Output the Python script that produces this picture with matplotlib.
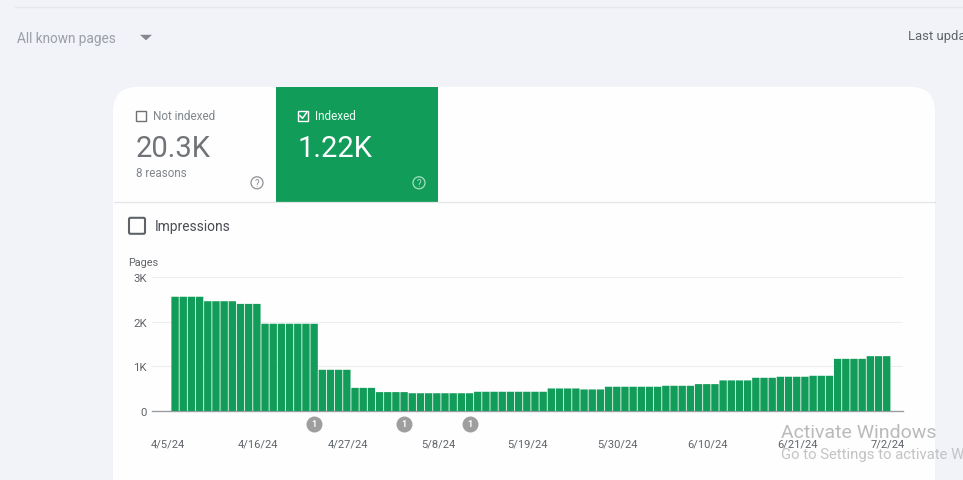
import numpy as np
import matplotlib
matplotlib.use('Agg')
import matplotlib.pyplot as plt
from matplotlib.patches import Rectangle, FancyBboxPatch, Circle, Polygon

plt.rcParams['font.family'] = ['Roboto', 'DejaVu Sans']

# daily indexed pages
pages = [2560, 2560, 2560, 2560, 2460, 2460, 2460, 2460, 2400, 2400, 2400,
         1955, 1955, 1955, 1955, 1955, 1955, 1955, 925, 925, 925, 925,
         520, 520, 520, 425, 425, 425, 425, 400, 400, 400, 400, 400, 400, 400, 400,
         433, 433, 433, 433, 433, 433, 433, 433, 433, 507, 507, 507, 507,
         485, 485, 485, 545, 545, 545, 545, 545, 545, 545,
         567, 567, 567, 567, 604, 604, 604, 687, 687, 687, 687,
         746, 746, 746, 769, 769, 769, 769, 791, 791, 791,
         1170, 1170, 1170, 1170, 1230, 1230, 1230]
tick_days = [0, 11, 22, 33, 44, 55, 66, 77, 88]
tick_labels = ['4/5/24', '4/16/24', '4/27/24', '5/8/24', '5/19/24', '5/30/24',
               '6/10/24', '6/21/24', '7/2/24']
y_ticks = [0, 1000, 2000, 3000]
y_labels = ['0', '1K', '2K', '3K']
event_days = [17, 28, 36]

W, H = 963, 481
SHIFT = 0.8  # everything sat a bit too high
GREEN = '#129c5a'
BG = '#f1f3f8'
GREY = '#5f6368'

fig = plt.figure(figsize=(W / 100, H / 100), dpi=100, facecolor=BG)

# page elements in pixel coordinates
ui = fig.add_axes([0, 0, 1, 1], zorder=1)
ui.set_xlim(0, W)
ui.set_ylim(H - SHIFT, -SHIFT)
ui.axis('off')

ui.plot([15, W], [7, 7], color='#e4e6ea', lw=1)
ui.text(17, 38, 'All known pages', fontsize=9.8, color='#9a9ea6', va='center')
ui.add_patch(Polygon([[140, 35], [152, 35], [146, 40.5]], color='#85888e', lw=0))
ui.text(908, 36, 'Last upda', fontsize=9.4, color='#5f6368', va='center')

# card
ui.add_patch(FancyBboxPatch((113, 87), 822, 450, boxstyle='round,pad=0,rounding_size=25',
                            fc='#fefefe', ec='none', lw=0))
ui.plot([114, 935], [202, 202], color='#e4e5e7', lw=0.9)

# Not indexed tile
ui.add_patch(Rectangle((136, 111), 10, 10, fc='none', ec='#6e7175', lw=1))
ui.text(153, 116, 'Not indexed', fontsize=8.5, color='#80868b', va='center')
ui.text(136, 148, '20.3K', fontsize=21, color='#707478', va='center')
ui.text(136, 173, '8 reasons', fontsize=8.4, color='#80868b', va='center')
ui.add_patch(Circle((257, 183), 6, fc='none', ec='#8d9094', lw=0.9))
ui.text(257, 183, '?', fontsize=7, color='#8d9094', ha='center', va='center')

# Indexed tile
ui.add_patch(Rectangle((276, 87), 162, 115, fc=GREEN, ec='none'))
ui.add_patch(Rectangle((298, 111), 10, 10, fc='none', ec='white', lw=1))
ui.plot([300, 302.5, 306.5], [116, 118.5, 113], color='white', lw=1.1)
ui.text(315, 116, 'Indexed', fontsize=8.5, color='#eafff3', va='center')
ui.text(298, 148, '1.22K', fontsize=21, color='white', va='center')
ui.add_patch(Circle((419, 183), 6, fc='none', ec='#a5e0c2', lw=0.9))
ui.text(419, 183, '?', fontsize=7, color='#a5e0c2', ha='center', va='center')

# Impressions checkbox
ui.add_patch(FancyBboxPatch((129, 218), 16, 16, boxstyle='round,pad=0,rounding_size=1.5',
                            fc='none', ec='#5f6368', lw=1.5))
ui.text(155, 226, 'Impressions', fontsize=9.9, color='#4a4d51', va='center')
ui.text(128, 262, 'Pages', fontsize=7.8, color=GREY, va='center')

# bar chart
ax = fig.add_axes([152 / W, 1 - (411.3 + SHIFT) / H, 751 / W, 134 / H], zorder=2)
ax.patch.set_alpha(0)
x = np.arange(len(pages))
# snap off so the thin gaps between bars stay even
ax.bar(x, pages, width=0.9, color=GREEN, zorder=3, snap=False)
ax.set_xlim(-2.82, 88.99)
ax.set_ylim(0, 3000)
ax.set_yticks(y_ticks)
ax.set_yticklabels(y_labels)
ax.set_xticks(np.array(tick_days) - 0.87)
ax.set_xticklabels(tick_labels)
ax.tick_params(axis='x', length=0, pad=20, labelsize=8, labelcolor=GREY)
ax.tick_params(axis='y', length=0, pad=3.6, labelsize=8.2, labelcolor=GREY)
ax.grid(axis='y', color='#eceef0', lw=0.8, zorder=0)
for s in ['top', 'left', 'right']:
    ax.spines[s].set_visible(False)
ax.spines['bottom'].set_color('#9a9ea2')
ax.spines['bottom'].set_linewidth(1)

# annotation markers below the axis
trans = ax.get_xaxis_transform()
ax.plot(event_days, [-0.095] * len(event_days), 'o', ms=11.5, color='#9e9e9e', mec='none',
        transform=trans, clip_on=False)
for d in event_days:
    ax.text(d, -0.095, '1', transform=trans, fontsize=6.5, fontweight='bold', color='white',
            ha='center', va='center')

# windows watermark
wm = fig.add_axes([0, 0, 1, 1], zorder=3)
wm.set_xlim(0, W)
wm.set_ylim(H, 0)
wm.axis('off')
wm.text(781, 433, 'Activate Windows', fontsize=14, color='#b9babc', va='center')
wm.text(781, 455, 'Go to Settings to activate W', fontsize=10.7, color='#c2c3c5', va='center')

fig.savefig('out.png', dpi=100, facecolor=BG)
